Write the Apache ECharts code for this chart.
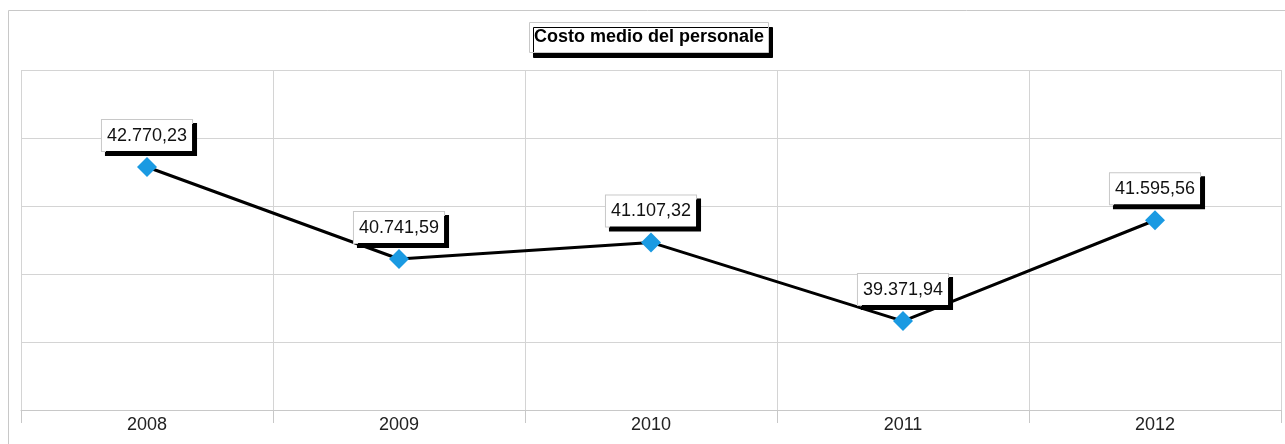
<!DOCTYPE html>
<html>
<head>
<meta charset="utf-8">
<script src="https://cdn.jsdelivr.net/npm/echarts@6/dist/echarts.min.js"></script>
<style>
  html, body { margin: 0; padding: 0; background: #fff; }
</style>
</head>
<body>
<div id="chart" style="width:1285px;height:444px;"></div>
<script>
// dati
const anni = ['2008', '2009', '2010', '2011', '2012']
const costoMedio = [42770.23, 40741.59, 41107.32, 39371.94, 41595.56]

// 42770.23 -> "42.770,23"
function formatIt (v) {
  let parts = v.toFixed(2).split('.')
  parts[0] = parts[0].replace(/\B(?=(\d{3})+(?!\d))/g, '.')
  return parts.join(',')
}

let chart = echarts.init(document.getElementById('chart'))
chart.setOption({
  animation: false,
  backgroundColor: '#fff',
  title: {
    text: 'Costo medio del personale',
    left: 529,
    top: 22,
    padding: [5, 5, 5, 5],
    backgroundColor: '#fff',
    borderColor: '#c8c8c8',
    borderWidth: 1,
    shadowColor: '#000',
    shadowOffsetX: 4,
    shadowOffsetY: 5,
    shadowBlur: 0,
    textStyle: {
      fontFamily: 'Liberation Sans, Arial, sans-serif',
      fontSize: 18,
      lineHeight: 21,
      fontWeight: 'bold',
      color: '#000'
    }
  },
  graphic: [{
    type: 'rect',
    shape: { x: 8.5, y: 10.5, width: 1300, height: 450 },
    style: { fill: null, stroke: '#c8c8c8', lineWidth: 1 },
    silent: true
  }],
  grid: {
    left: 21,
    right: 4,
    top: 70,
    bottom: 34
  },
  xAxis: {
    type: 'category',
    data: anni,
    boundaryGap: true,
    axisLine: { lineStyle: { color: '#c8c8c8', width: 1 } },
    axisTick: { show: true, length: 13, lineStyle: { color: '#c8c8c8' } },
    splitLine: { show: true, lineStyle: { color: '#d4d4d4', width: 1 } },
    axisLabel: {
      margin: 6,
      fontFamily: 'Liberation Sans, Arial, sans-serif',
      fontSize: 18,
      color: '#222'
    }
  },
  yAxis: [{
    // asse dei valori (nascosto)
    type: 'value',
    min: 37410,
    max: 44910,
    axisLine: { show: false },
    axisTick: { show: false },
    axisLabel: { show: false },
    splitLine: { show: false }
  }, {
    // solo per la griglia orizzontale
    type: 'value',
    min: 0,
    max: 5,
    interval: 1,
    axisLine: { show: false },
    axisTick: { show: false },
    axisLabel: { show: false },
    splitLine: { show: true, lineStyle: { color: '#d4d4d4', width: 1 } }
  }],
  series: [{
    type: 'line',
    yAxisIndex: 0,
    data: costoMedio,
    symbol: 'diamond',
    symbolSize: 20,
    itemStyle: { color: '#1a9ae2' },
    lineStyle: { color: '#000', width: 3 },
    z: 3,
    label: {
      show: true,
      position: 'top',
      distance: 6,
      formatter: (p) => formatIt(p.value),
      fontFamily: 'Liberation Sans, Arial, sans-serif',
      fontSize: 18,
      lineHeight: 20,
      color: '#111',
      backgroundColor: '#fff',
      borderColor: '#c8c8c8',
      borderWidth: 1,
      padding: [6, 5, 5, 5],
      shadowColor: '#000',
      shadowOffsetX: 4,
      shadowOffsetY: 4,
      shadowBlur: 0
    }
  }]
})
</script>
</body>
</html>
